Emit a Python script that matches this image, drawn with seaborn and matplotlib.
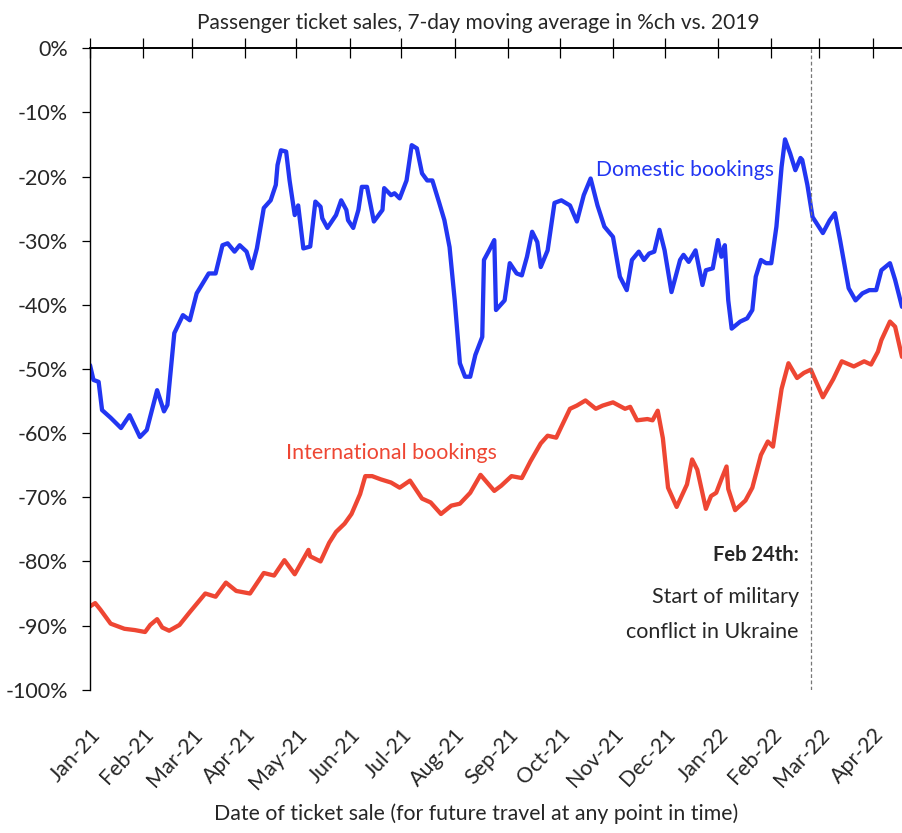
import pandas as pd
import matplotlib.pyplot as plt
import matplotlib.dates as mdates
import seaborn as sns

# days since 1 Jan 2021 and % change vs 2019
dom_days = [0, 2, 5, 7, 12, 18, 23, 29, 33, 39, 43, 45, 49, 54, 58, 62, 69, 73, 77, 80,
            84, 87, 91, 94, 97, 101, 105, 108, 109, 111, 114, 116, 119, 121, 124, 128, 131, 134, 135, 138,
            143, 146, 149, 150, 153, 156, 158, 161, 165, 170, 171, 175, 177, 180, 184, 187, 190, 193, 196, 199,
            203, 206, 209, 212, 215, 218, 221, 224, 228, 229, 232, 235, 236, 241, 244, 248, 251, 254, 257, 260,
            262, 266, 270, 274, 279, 283, 287, 291, 295, 299, 304, 308, 312, 315, 319, 322, 325, 328, 331, 334,
            338, 343, 345, 348, 352, 356, 358, 362, 365, 367, 369, 371, 373, 378, 382, 385, 387, 390, 393, 396,
            399, 402, 404, 407, 410, 413, 414, 417, 420, 426, 430, 433, 436, 441, 445, 449, 453, 457, 460, 465,
            468, 472]
domestic = [-49.4, -51.7, -52.0, -56.4, -57.6, -59.2, -57.2, -60.6, -59.5, -53.3, -56.6, -55.6, -44.4, -41.6, -42.4, -38.2, -35.1, -35.1, -30.7, -30.4,
            -31.7, -30.7, -31.7, -34.3, -31.2, -24.9, -23.7, -21.3, -18.2, -15.9, -16.1, -20.6, -26.0, -24.5, -31.2, -30.9, -23.9, -24.7, -26.5, -28.0,
            -26.0, -23.7, -25.2, -26.8, -28.0, -25.2, -21.6, -21.6, -27.0, -25.2, -21.8, -22.9, -22.6, -23.4, -20.6, -15.1, -15.6, -19.5, -20.6, -20.6,
            -24.1, -26.8, -31.0, -39.3, -49.1, -51.2, -51.2, -47.8, -45.0, -33.0, -31.5, -29.9, -40.8, -39.3, -33.5, -35.1, -35.4, -32.5, -28.6, -30.2,
            -34.1, -31.5, -24.1, -23.7, -24.5, -27.0, -22.9, -20.3, -24.5, -27.8, -29.4, -35.6, -37.7, -33.0, -31.7, -33.0, -32.0, -31.7, -28.3, -31.5,
            -38.0, -33.0, -32.2, -33.3, -31.5, -36.9, -34.6, -34.3, -29.9, -32.5, -30.7, -39.3, -43.7, -42.6, -42.1, -40.8, -35.6, -33.0, -33.5, -33.5,
            -27.8, -18.5, -14.2, -16.4, -19.0, -17.1, -17.4, -21.3, -26.3, -28.8, -26.8, -25.7, -29.9, -37.4, -39.3, -38.2, -37.7, -37.7, -34.6, -33.5,
            -36.1, -40.3]

intl_days = [0, 3, 6, 12, 20, 26, 32, 35, 39, 42, 46, 52, 58, 67, 73, 79, 85, 93, 101, 107,
             113, 119, 127, 128, 134, 139, 143, 148, 152, 157, 160, 164, 169, 175, 180, 186, 193, 198, 204, 210,
             215, 221, 227, 235, 239, 245, 251, 256, 262, 266, 271, 274, 279, 283, 288, 294, 298, 304, 311, 314,
             318, 324, 327, 330, 333, 336, 341, 347, 350, 353, 358, 361, 364, 367, 370, 371, 375, 381, 385, 390,
             394, 397, 402, 406, 411, 415, 419, 426, 432, 437, 444, 450, 454, 458, 460, 465, 468, 472]
international = [-87.0, -86.5, -87.5, -89.7, -90.5, -90.7, -91.0, -89.9, -89.0, -90.3, -90.8, -89.9, -87.9, -85.0, -85.5, -83.3, -84.6, -85.0, -81.8, -82.2,
                 -79.8, -82.0, -78.2, -79.2, -80.0, -77.1, -75.4, -74.1, -72.6, -69.5, -66.7, -66.7, -67.2, -67.7, -68.5, -67.4, -70.2, -70.8, -72.6, -71.3,
                 -71.0, -69.3, -66.5, -69.0, -68.2, -66.7, -67.0, -64.4, -61.6, -60.4, -60.7, -59.0, -56.2, -55.7, -54.9, -56.2, -55.7, -55.2, -56.2, -55.9,
                 -58.0, -57.8, -58.0, -56.5, -60.8, -68.5, -71.5, -68.0, -64.1, -65.7, -71.8, -69.8, -69.3, -67.2, -65.2, -68.7, -72.0, -70.5, -68.5, -63.4,
                 -61.3, -62.1, -53.1, -49.1, -51.4, -50.6, -50.1, -54.4, -51.6, -48.8, -49.6, -48.8, -49.3, -47.3, -45.5, -42.6, -43.4, -48.1]

start = pd.Timestamp("2021-01-01")
dom_dates = start + pd.to_timedelta(dom_days, unit="D")
intl_dates = start + pd.to_timedelta(intl_days, unit="D")
event_date = pd.Timestamp("2022-02-24")

blue = "#2236f2"
red = "#ee4633"

sns.set_style("white")
plt.rcParams["font.family"] = ["Lato", "DejaVu Sans"]

fig = plt.figure(figsize=(9.02, 8.33), dpi=100)
ax = fig.add_axes([0.0998, 0.172, 0.9002, 0.770])

sns.lineplot(x=dom_dates, y=domestic, color=blue, linewidth=3.1, ax=ax)
sns.lineplot(x=intl_dates, y=international, color=red, linewidth=3.1, ax=ax)
ax.axvline(event_date, color="#777777", linestyle=(0, (3, 2)), linewidth=0.9)

ax.set_ylim(-100, 0)
ax.set_xlim(start, start + pd.Timedelta(days=472))
ax.set_yticks(range(-100, 1, 10))
ax.set_yticklabels([f"{v}%" for v in range(-100, 1, 10)], fontsize=15.5)

ax.xaxis.set_major_locator(mdates.MonthLocator())
ax.xaxis.set_major_formatter(mdates.DateFormatter("%b-%y"))
ax.tick_params(axis="x", top=True, bottom=False, labeltop=False, labelbottom=True,
               direction="inout", length=14, width=0.9, color="black", labelsize=15.5, pad=18)
ax.tick_params(axis="y", left=True, direction="out", length=6, width=0.9, color="black", pad=10)
for lab in ax.get_xticklabels():
    lab.set_rotation(47)
    lab.set_ha("right")
    lab.set_rotation_mode("anchor")

for s in ["right", "bottom"]:
    ax.spines[s].set_visible(False)
ax.spines["top"].set_linewidth(1.4)
ax.spines["left"].set_linewidth(1.0)
ax.spines["top"].set_color("black")
ax.spines["left"].set_color("black")

ax.text(pd.Timestamp("2021-10-22"), -19, "Domestic bookings", color=blue, fontsize=15.2, va="center")
ax.text(pd.Timestamp("2021-04-25"), -63.1, "International bookings", color=red, fontsize=15.4, va="center")
ax.text(pd.Timestamp("2022-02-17"), -79, "Feb 24th:", fontsize=14.5, fontweight="bold", ha="right", va="center")
ax.text(pd.Timestamp("2022-02-17"), -85.5, "Start of military", fontsize=15.5, ha="right", va="center")
ax.text(pd.Timestamp("2022-02-17"), -91, "conflict in Ukraine", fontsize=15.5, ha="right", va="center")

ax.set_title("Passenger ticket sales, 7-day moving average in %ch vs. 2019", fontsize=15, pad=14, x=0.478)
ax.set_xlabel("Date of ticket sale (for future travel at any point in time)", fontsize=15.3)
ax.xaxis.set_label_coords(0.475, -0.178)
ax.set_ylabel("")

fig.savefig("out.png", dpi=100)
